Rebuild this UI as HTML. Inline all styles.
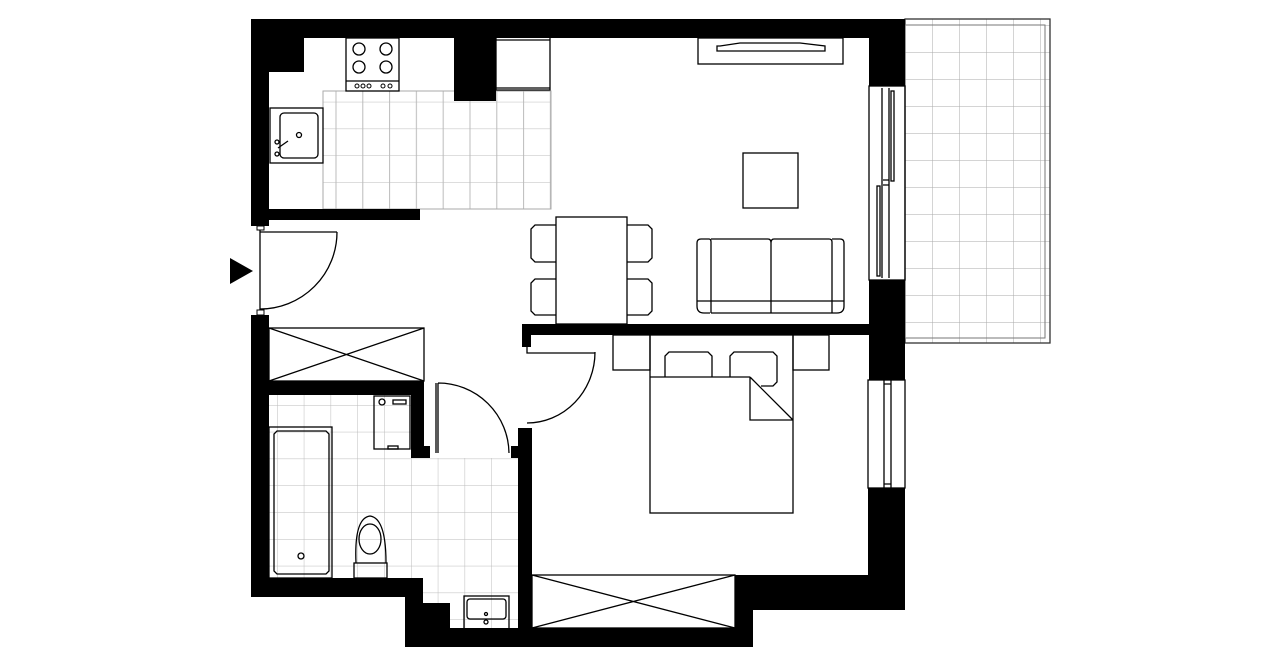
<!DOCTYPE html>
<html><head><meta charset="utf-8"><style>html,body{margin:0;padding:0;background:#fff}svg{display:block}</style></head>
<body>
<svg width="1280" height="667" viewBox="0 0 1280 667" xmlns="http://www.w3.org/2000/svg">
<defs>
<pattern id="t1" x="323" y="75" width="26.8" height="26.8" patternUnits="userSpaceOnUse"><path d="M13 0V26.8M0 0H26.8" stroke="#bbb" stroke-width="1" fill="none"/></pattern>
<pattern id="t2" x="277" y="405" width="26.8" height="26.8" patternUnits="userSpaceOnUse"><path d="M0 0V26.8M0 0H26.8" stroke="#bbb" stroke-width="1" fill="none"/></pattern>
<pattern id="t3" x="905" y="25" width="27" height="27" patternUnits="userSpaceOnUse"><path d="M0 0V27M0 0H27" stroke="#aaa" stroke-width="1" fill="none"/></pattern>
</defs>
<rect x="323" y="91" width="228" height="118" fill="url(#t1)" stroke="#aaa"/>
<polygon points="269,395 411,395 411,458 518,458 518,629 450,629 450,603 423,603 423,578 269,578" fill="url(#t2)"/>
<rect x="905" y="19" width="145" height="324" fill="url(#t3)" stroke="#333" stroke-width="1.3"/>
<rect x="905" y="25" width="140" height="313" fill="none" stroke="#777" stroke-width="1"/>
<g fill="#000">
<rect x="251" y="19" width="654" height="19"/>
<rect x="251" y="19" width="18" height="207"/>
<rect x="251" y="38" width="53" height="34"/>
<rect x="269" y="209" width="151" height="11"/>
<rect x="454" y="38" width="42" height="63"/>
<rect x="869" y="19" width="36" height="67"/>
<rect x="869" y="280" width="36" height="100"/>
<rect x="522" y="324" width="348" height="11"/>
<rect x="522" y="335" width="9" height="12"/>
<rect x="868" y="488" width="37" height="122"/>
<rect x="735" y="575" width="170" height="35"/>
<rect x="735" y="610" width="18" height="37"/>
<rect x="405" y="628" width="348" height="19"/>
<rect x="518" y="428" width="14" height="219"/>
<rect x="511" y="446" width="8" height="12"/>
<rect x="251" y="315" width="18" height="282"/>
<rect x="251" y="578" width="172" height="19"/>
<rect x="405" y="597" width="18" height="50"/>
<rect x="423" y="603" width="27" height="44"/>
<rect x="269" y="381" width="155" height="14"/>
<rect x="411" y="381" width="13" height="77"/>
<rect x="423" y="446" width="7" height="12"/>
<polygon points="230,258 253,271 230,284"/>
</g>
<g fill="none" stroke="#000" stroke-width="1.3">
<rect x="257" y="226" width="7" height="4" stroke-width="1"/>
<rect x="257" y="310" width="7" height="5" stroke-width="1"/>
<path d="M260 230V310M260 232H337M337 232A77 77 0 0 1 260 309"/>
<path d="M436 453V383M438 453V383M438 383A71 71 0 0 1 509 453"/>
<path d="M527 347V353H595M595 352A68 71 0 0 1 527 423"/>
<rect x="346" y="38" width="53" height="53"/>
<path d="M346 81H399"/>
<circle cx="359" cy="49" r="6"/><circle cx="386" cy="49" r="6"/><circle cx="359" cy="67" r="6"/><circle cx="386" cy="67" r="6"/>
<g stroke-width="1"><circle cx="357" cy="86" r="2"/><circle cx="363" cy="86" r="2"/><circle cx="369" cy="86" r="2"/><circle cx="383" cy="86" r="2"/><circle cx="390" cy="86" r="2"/></g>
<path d="M496 38V90H550V38M496 40H550M496 88H550"/>
<rect x="270" y="108" width="53" height="55"/>
<rect x="280" y="113" width="38" height="45" rx="4"/>
<circle cx="299" cy="135" r="2.5"/>
<circle cx="277" cy="142" r="2"/><circle cx="277" cy="154" r="2"/><path d="M278 148L288 141"/>
<rect x="556" y="217" width="71" height="107"/>
<path d="M556 225H535L531 229V258L535 262H556M556 279H535L531 283V311L535 315H556M627 225H648L652 229V258L648 262H627M627 279H648L652 283V311L648 315H627"/>
<rect x="698" y="38" width="145" height="26"/>
<path d="M720 46L740 43H800L825 46V51H717V46Z"/>
<rect x="743" y="153" width="55" height="55"/>
<path d="M701 239H709Q711 239 711 242V313M710 313H704Q697 313 697 306V243Q697 239 701 239M711 239H768Q771 239 771 243V313M711 313H832M771 243Q771 239 774 239H829Q832 239 832 242V313M832 239H840Q844 239 844 243V306Q844 313 837 313H832M697 301H844"/>
<rect x="869" y="86" width="36" height="194"/>
<path d="M882 88V278M889 88V278M883 180H889M883 185H889"/>
<rect x="891" y="91" width="3" height="90"/><rect x="877" y="186" width="3" height="90"/>
<rect x="868" y="380" width="37" height="108"/>
<path d="M884 380V488M891 380V488M884 384H891M884 484H891"/>
<rect x="613" y="335" width="37" height="35"/>
<rect x="793" y="335" width="36" height="35"/>
<rect x="650" y="335" width="143" height="178"/>
<path d="M650 377H750M665 377V356L669 352H708L712 356V377M730 377V356L734 352H773L777 356V382L773 386H761M750 377L793 420M750 377V420H793"/>
<rect x="532" y="575" width="203" height="53"/>
<path d="M532 575L735 628M735 575L532 628"/>
<rect x="269" y="328" width="155" height="53"/>
<path d="M269 328L424 381M424 328L269 381"/>
<rect x="269" y="427" width="63" height="151"/>
<path d="M277 431H326L329 434V571L326 574H277L274 571V434Z"/>
<circle cx="301" cy="556" r="3"/>
<rect x="374" y="396" width="36" height="53"/>
<circle cx="382" cy="402" r="3"/><rect x="393" y="400" width="13" height="4"/>
<rect x="388" y="446" width="10" height="3"/>
<rect x="354" y="563" width="33" height="15"/>
<path d="M356 563Q354 518 370 516Q386 518 386 563"/>
<ellipse cx="370" cy="539" rx="11" ry="15"/>
<rect x="464" y="596" width="45" height="33"/>
<rect x="467" y="599" width="39" height="20" rx="3"/>
<circle cx="486" cy="614" r="1.5"/><circle cx="486" cy="622" r="2"/>
</g>
</svg>
</body></html>
